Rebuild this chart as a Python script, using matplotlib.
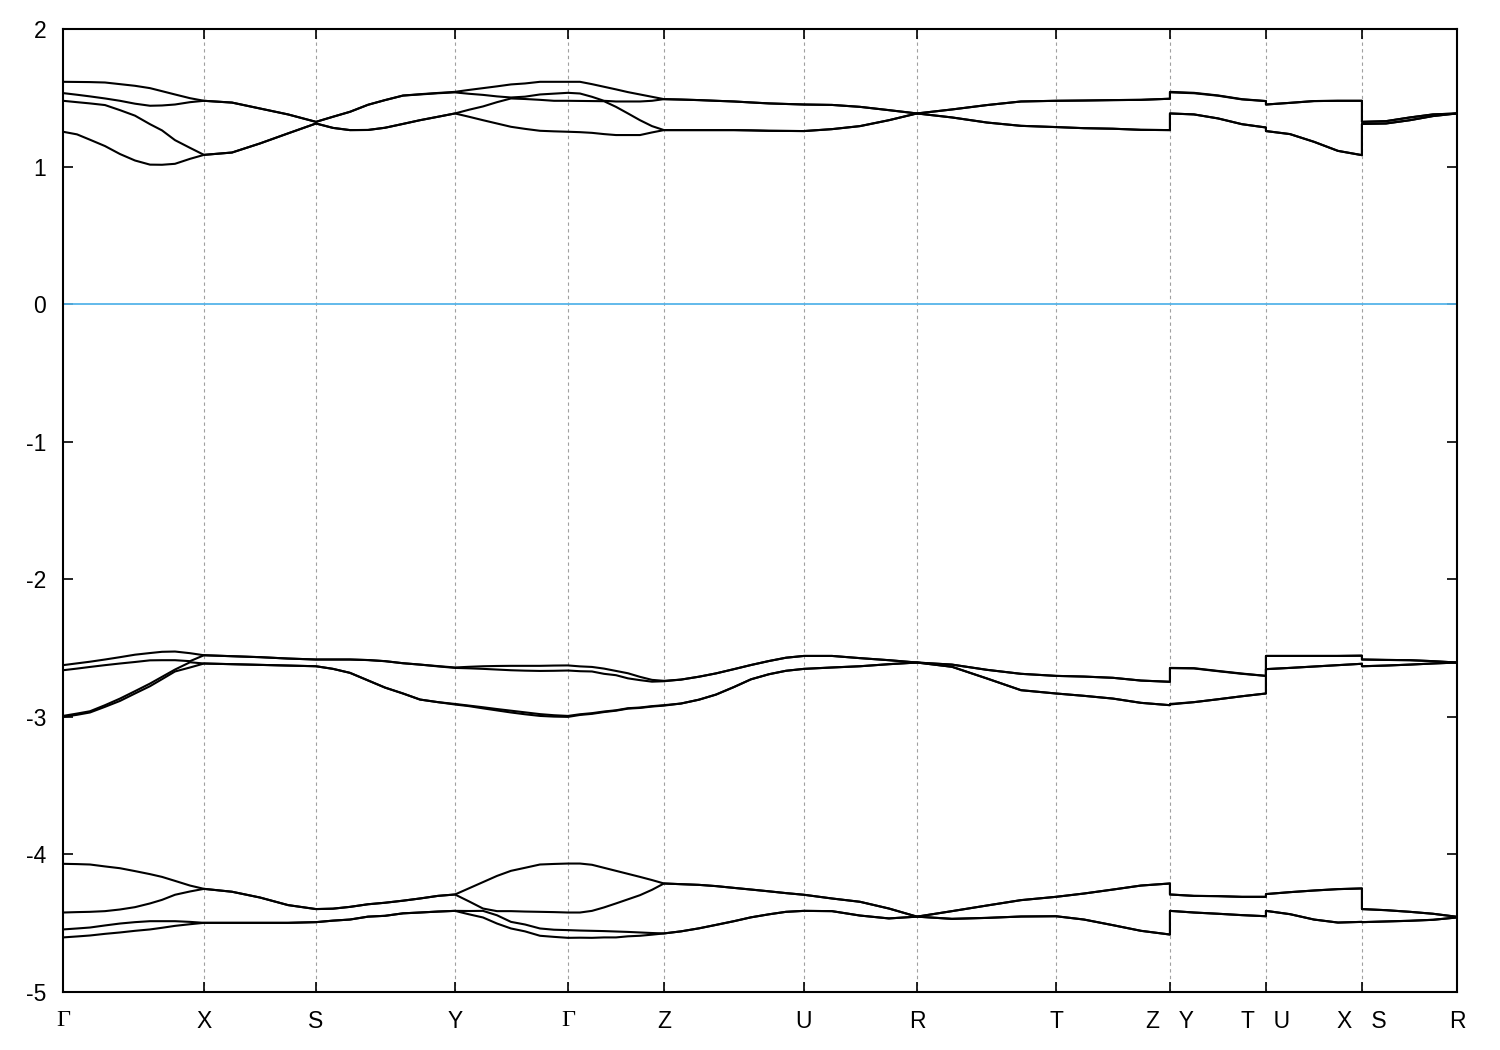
#BAND STRUCTURE PLOT (gnuplot-like look)
import matplotlib
matplotlib.use("Agg")
import matplotlib.pyplot as plt

plt.rcParams['axes.unicode_minus'] = False

#k-path distance of every sampled point (discontinuities repeat the k value)
k_path = [0, 14, 27, 42, 57, 72, 87, 99, 112, 127, 141,
          169, 197, 225, 253,
          270, 287, 305, 322, 340, 357, 375, 392,
          406, 420, 434, 448, 462, 477, 491, 505,
          517, 529, 541, 553, 565, 577, 589, 601,
          618, 636, 653, 671, 688, 706, 723, 741,
          769, 797, 826, 854,
          889, 924, 958, 993,
          1021, 1050, 1078, 1107,
          1107, 1131, 1155, 1179, 1203,
          1203, 1227, 1251, 1275, 1299,
          1299, 1323, 1347, 1370, 1394]

#high symmetry points
sym_k = [0, 141, 253, 392, 505, 601, 741, 854, 993, 1107, 1203, 1299, 1394]
sym_labels = ["Γ", "X", "S", "Y", "Γ", "Z", "U", "R", "T",
              "Z   Y", "T   U", "X   S", "R"]

#conduction bands (eV)
cond_4 = [1.616, 1.615, 1.614, 1.611, 1.599, 1.587, 1.570, 1.548, 1.524, 1.497, 1.478,
          1.465, 1.422, 1.379, 1.325,
          1.362, 1.398, 1.449, 1.483, 1.516, 1.526, 1.535, 1.543,
          1.557, 1.570, 1.583, 1.597, 1.604, 1.616, 1.616, 1.616,
          1.616, 1.599, 1.580, 1.561, 1.541, 1.524, 1.507, 1.490,
          1.487, 1.483, 1.478, 1.473, 1.466, 1.459, 1.455, 1.451,
          1.448, 1.434, 1.410, 1.386,
          1.415, 1.447, 1.473, 1.478,
          1.480, 1.483, 1.485, 1.493,
          1.543, 1.536, 1.517, 1.490, 1.476,
          1.451, 1.463, 1.476, 1.478, 1.478,
          1.325, 1.330, 1.357, 1.379, 1.386]
cond_3 = [1.534, 1.522, 1.510, 1.495, 1.478, 1.457, 1.442, 1.444, 1.451, 1.468, 1.478,
          1.465, 1.422, 1.379, 1.325,
          1.362, 1.398, 1.449, 1.483, 1.516, 1.524, 1.533, 1.539,
          1.529, 1.521, 1.510, 1.502, 1.508, 1.524, 1.530, 1.536,
          1.531, 1.507, 1.478, 1.473, 1.473, 1.473, 1.478, 1.490,
          1.487, 1.483, 1.478, 1.473, 1.466, 1.459, 1.455, 1.451,
          1.448, 1.434, 1.410, 1.386,
          1.415, 1.447, 1.473, 1.478,
          1.480, 1.483, 1.485, 1.493,
          1.539, 1.533, 1.515, 1.488, 1.476,
          1.451, 1.463, 1.476, 1.478, 1.478,
          1.325, 1.330, 1.357, 1.379, 1.386]
cond_2 = [1.478, 1.468, 1.459, 1.447, 1.410, 1.370, 1.308, 1.263, 1.192, 1.136, 1.085,
          1.102, 1.168, 1.241, 1.313,
          1.281, 1.265, 1.266, 1.282, 1.310, 1.337, 1.362, 1.386,
          1.413, 1.437, 1.468, 1.495, 1.491, 1.485, 1.478, 1.478,
          1.477, 1.476, 1.475, 1.434, 1.386, 1.337, 1.294, 1.265,
          1.265, 1.265, 1.265, 1.265, 1.263, 1.260, 1.259, 1.258,
          1.272, 1.294, 1.337, 1.386,
          1.357, 1.320, 1.296, 1.287,
          1.279, 1.275, 1.267, 1.265,
          1.386, 1.379, 1.350, 1.308, 1.284,
          1.258, 1.236, 1.180, 1.114, 1.083,
          1.310, 1.313, 1.337, 1.367, 1.386]
cond_1 = [1.253, 1.234, 1.195, 1.149, 1.091, 1.044, 1.014, 1.013, 1.020, 1.056, 1.085,
          1.102, 1.168, 1.241, 1.313,
          1.281, 1.265, 1.266, 1.282, 1.310, 1.337, 1.362, 1.386,
          1.362, 1.337, 1.313, 1.289, 1.274, 1.260, 1.256, 1.253,
          1.250, 1.245, 1.236, 1.229, 1.229, 1.229, 1.248, 1.265,
          1.265, 1.265, 1.265, 1.265, 1.263, 1.260, 1.259, 1.258,
          1.272, 1.294, 1.337, 1.386,
          1.357, 1.320, 1.296, 1.287,
          1.279, 1.275, 1.267, 1.265,
          1.386, 1.379, 1.350, 1.308, 1.284,
          1.258, 1.236, 1.180, 1.114, 1.083,
          1.310, 1.313, 1.337, 1.367, 1.386]

#upper valence bands (eV)
val_4 = [-2.624, -2.611, -2.599, -2.583, -2.566, -2.548, -2.536, -2.527, -2.525, -2.537, -2.552,
         -2.559, -2.566, -2.576, -2.583,
         -2.583, -2.583, -2.587, -2.595, -2.610, -2.620, -2.631, -2.641,
         -2.636, -2.632, -2.630, -2.629, -2.629, -2.629, -2.627, -2.626,
         -2.633, -2.637, -2.649, -2.666, -2.683, -2.709, -2.731, -2.738,
         -2.729, -2.708, -2.684, -2.653, -2.623, -2.594, -2.570, -2.557,
         -2.557, -2.573, -2.588, -2.605,
         -2.620, -2.658, -2.687, -2.702,
         -2.707, -2.716, -2.736, -2.745,
         -2.644, -2.646, -2.666, -2.685, -2.702,
         -2.557, -2.557, -2.557, -2.557, -2.555,
         -2.583, -2.586, -2.588, -2.595, -2.605]
val_3 = [-2.661, -2.649, -2.637, -2.624, -2.612, -2.601, -2.589, -2.588, -2.588, -2.595, -2.552,
         -2.559, -2.566, -2.576, -2.583,
         -2.583, -2.583, -2.587, -2.595, -2.610, -2.620, -2.633, -2.644,
         -2.647, -2.651, -2.656, -2.661, -2.664, -2.666, -2.665, -2.663,
         -2.668, -2.670, -2.687, -2.697, -2.720, -2.733, -2.744, -2.741,
         -2.729, -2.708, -2.684, -2.653, -2.623, -2.594, -2.570, -2.557,
         -2.557, -2.573, -2.588, -2.605,
         -2.620, -2.658, -2.687, -2.702,
         -2.707, -2.716, -2.736, -2.745,
         -2.646, -2.648, -2.668, -2.687, -2.702,
         -2.557, -2.557, -2.557, -2.557, -2.555,
         -2.583, -2.586, -2.588, -2.595, -2.605]
val_2 = [-2.993, -2.976, -2.959, -2.915, -2.867, -2.813, -2.758, -2.709, -2.656, -2.603, -2.612,
         -2.617, -2.622, -2.627, -2.632,
         -2.651, -2.680, -2.735, -2.787, -2.830, -2.874, -2.893, -2.906,
         -2.918, -2.930, -2.943, -2.955, -2.967, -2.980, -2.988, -2.993,
         -2.981, -2.973, -2.961, -2.952, -2.937, -2.932, -2.922, -2.915,
         -2.903, -2.875, -2.838, -2.783, -2.727, -2.690, -2.665, -2.651,
         -2.641, -2.632, -2.617, -2.605,
         -2.636, -2.721, -2.806, -2.830,
         -2.847, -2.867, -2.898, -2.915,
         -2.906, -2.893, -2.872, -2.850, -2.830,
         -2.653, -2.644, -2.634, -2.624, -2.614,
         -2.632, -2.627, -2.620, -2.612, -2.605]
val_1 = [-3.000, -2.985, -2.968, -2.927, -2.884, -2.830, -2.777, -2.726, -2.670, -2.641, -2.612,
         -2.617, -2.622, -2.627, -2.632,
         -2.651, -2.680, -2.735, -2.787, -2.830, -2.874, -2.893, -2.910,
         -2.922, -2.938, -2.953, -2.968, -2.981, -2.993, -2.998, -3.000,
         -2.986, -2.978, -2.965, -2.955, -2.940, -2.935, -2.925, -2.918,
         -2.903, -2.875, -2.838, -2.783, -2.727, -2.690, -2.665, -2.651,
         -2.641, -2.632, -2.617, -2.605,
         -2.636, -2.721, -2.806, -2.830,
         -2.847, -2.867, -2.898, -2.915,
         -2.910, -2.893, -2.872, -2.850, -2.830,
         -2.653, -2.644, -2.634, -2.624, -2.614,
         -2.632, -2.627, -2.620, -2.612, -2.605]

#lower valence bands (eV)
low_4 = [-4.068, -4.070, -4.073, -4.087, -4.100, -4.121, -4.143, -4.163, -4.192, -4.226, -4.250,
         -4.271, -4.313, -4.368, -4.397,
         -4.394, -4.381, -4.362, -4.351, -4.336, -4.320, -4.301, -4.291,
         -4.246, -4.201, -4.156, -4.119, -4.097, -4.073, -4.069, -4.066,
         -4.066, -4.075, -4.097, -4.119, -4.141, -4.163, -4.186, -4.211,
         -4.216, -4.221, -4.230, -4.243, -4.255, -4.268, -4.281, -4.293,
         -4.320, -4.344, -4.393, -4.452,
         -4.412, -4.371, -4.332, -4.308,
         -4.284, -4.255, -4.226, -4.211,
         -4.291, -4.301, -4.303, -4.308, -4.308,
         -4.288, -4.274, -4.262, -4.252, -4.247,
         -4.397, -4.405, -4.417, -4.431, -4.453]
low_3 = [-4.422, -4.419, -4.417, -4.412, -4.400, -4.383, -4.356, -4.330, -4.293, -4.269, -4.250,
         -4.271, -4.313, -4.368, -4.397,
         -4.394, -4.381, -4.362, -4.351, -4.336, -4.320, -4.301, -4.291,
         -4.341, -4.393, -4.412, -4.412, -4.415, -4.417, -4.419, -4.422,
         -4.422, -4.410, -4.385, -4.356, -4.326, -4.296, -4.257, -4.211,
         -4.216, -4.221, -4.230, -4.243, -4.255, -4.268, -4.281, -4.293,
         -4.320, -4.344, -4.393, -4.452,
         -4.412, -4.371, -4.332, -4.308,
         -4.284, -4.255, -4.226, -4.211,
         -4.291, -4.301, -4.303, -4.308, -4.308,
         -4.288, -4.274, -4.262, -4.252, -4.247,
         -4.397, -4.405, -4.417, -4.431, -4.453]
low_2 = [-4.545, -4.538, -4.531, -4.516, -4.502, -4.492, -4.485, -4.485, -4.485, -4.490, -4.497,
         -4.497, -4.497, -4.497, -4.492,
         -4.481, -4.473, -4.452, -4.446, -4.428, -4.422, -4.415, -4.410,
         -4.411, -4.410, -4.442, -4.490, -4.509, -4.538, -4.547, -4.550,
         -4.553, -4.555, -4.557, -4.560, -4.563, -4.567, -4.571, -4.574,
         -4.559, -4.537, -4.512, -4.485, -4.457, -4.435, -4.417, -4.410,
         -4.412, -4.444, -4.465, -4.452,
         -4.468, -4.461, -4.451, -4.449,
         -4.473, -4.514, -4.555, -4.582,
         -4.410, -4.422, -4.431, -4.441, -4.449,
         -4.410, -4.434, -4.473, -4.495, -4.490,
         -4.492, -4.487, -4.482, -4.475, -4.458]
low_1 = [-4.603, -4.596, -4.589, -4.577, -4.567, -4.555, -4.545, -4.533, -4.519, -4.507, -4.497,
         -4.497, -4.497, -4.497, -4.492,
         -4.481, -4.473, -4.452, -4.446, -4.428, -4.422, -4.415, -4.410,
         -4.435, -4.458, -4.502, -4.538, -4.559, -4.591, -4.599, -4.606,
         -4.605, -4.606, -4.603, -4.603, -4.595, -4.591, -4.583, -4.574,
         -4.559, -4.537, -4.512, -4.485, -4.457, -4.435, -4.417, -4.410,
         -4.412, -4.444, -4.465, -4.452,
         -4.468, -4.461, -4.451, -4.449,
         -4.473, -4.514, -4.555, -4.582,
         -4.410, -4.422, -4.431, -4.441, -4.449,
         -4.410, -4.434, -4.473, -4.495, -4.490,
         -4.492, -4.487, -4.482, -4.475, -4.458]

all_bands = [cond_4, cond_3, cond_2, cond_1,
             val_4, val_3, val_2, val_1,
             low_4, low_3, low_2, low_1]

#figure
fig = plt.figure(figsize=(15, 10.5), dpi=100)
ax = fig.add_axes([0.042, 0.0552, 0.9293, 0.9172])

#dashed grid at the high symmetry points
for k in sym_k[1:-1]:
    ax.axvline(k, color='#a0a0a0', linewidth=0.8, linestyle=(0, (3, 3)), zorder=1)

#fermi level
ax.axhline(0, color='#56b4e9', linewidth=1.3, zorder=2)

#bands
for band in all_bands:
    ax.plot(k_path, band, color='black', linewidth=1.5, zorder=3,
            solid_joinstyle='round')

ax.set_xlim(sym_k[0], sym_k[-1])
ax.set_ylim(-5, 2)

#ticks
ax.set_yticks(range(-5, 3))
ax.set_xticks(sym_k)
ax.set_xticklabels(sym_labels)
ax.tick_params(axis='both', direction='in', length=7, width=1.2,
               top=True, right=True, labelsize=16.5,
               labelfontfamily='Liberation Sans')
ax.tick_params(axis='y', pad=12)
ax.tick_params(axis='x', pad=13)
for lbl in ax.get_xticklabels():
    if lbl.get_text() == "Γ":
        lbl.set_fontfamily('Liberation Serif')
        lbl.set_fontsize(17.5)

for spine in ax.spines.values():
    spine.set_linewidth(1.5)

fig.savefig("out.png", dpi=100)
